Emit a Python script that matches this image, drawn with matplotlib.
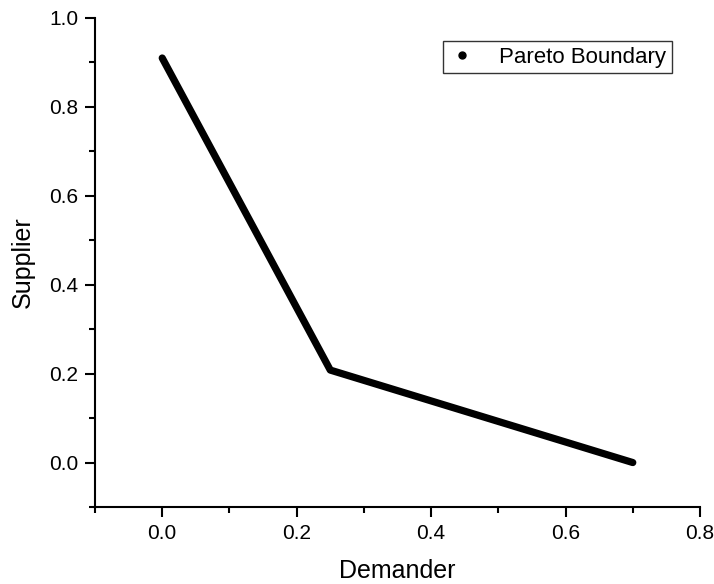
import matplotlib.pyplot as plt
from matplotlib.lines import Line2D
from matplotlib.ticker import MultipleLocator

# Pareto boundary vertices
demander = [0.0, 0.25, 0.70]
supplier = [0.91, 0.208, 0.0]

plt.rcParams['font.family'] = ['Liberation Sans', 'DejaVu Sans']

fig = plt.figure(figsize=(7.14, 5.84), dpi=100)
ax = fig.add_axes([95 / 714, 1 - 507 / 584, 605 / 714, 489 / 584])

ax.plot(demander, supplier, color='black', lw=5.2, solid_capstyle='round',
        solid_joinstyle='round')

ax.set_xlim(-0.1, 0.8)
ax.set_ylim(-0.1, 1.0)
ax.xaxis.set_major_locator(MultipleLocator(0.2))
ax.xaxis.set_minor_locator(MultipleLocator(0.1))
ax.yaxis.set_major_locator(MultipleLocator(0.2))
ax.yaxis.set_minor_locator(MultipleLocator(0.1))
ax.xaxis.set_major_formatter(plt.FormatStrFormatter('%.1f'))
ax.yaxis.set_major_formatter(plt.FormatStrFormatter('%.1f'))

for side in ['top', 'right']:
    ax.spines[side].set_visible(False)
for side in ['left', 'bottom']:
    ax.spines[side].set_linewidth(1.5)

ax.tick_params(which='major', direction='out', length=7, width=1.5, labelsize=15, pad=5)
ax.tick_params(which='minor', direction='out', length=4, width=1.5)

ax.set_xlabel('Demander', fontsize=18, labelpad=12)
ax.set_ylabel('Supplier', fontsize=18, labelpad=10)

handle = Line2D([], [], ls='none', marker='o', ms=5, color='black')
leg = ax.legend([handle], ['Pareto Boundary'], loc='upper right',
                bbox_to_anchor=(672 / 714, 1 - 41 / 584), bbox_transform=fig.transFigure,
                fontsize=16, fancybox=False, framealpha=1, edgecolor='#333333',
                handlelength=1.2, handletextpad=1.1, borderpad=0.25, borderaxespad=0)
leg.get_frame().set_linewidth(1.0)

fig.savefig('out.png', dpi=100)
